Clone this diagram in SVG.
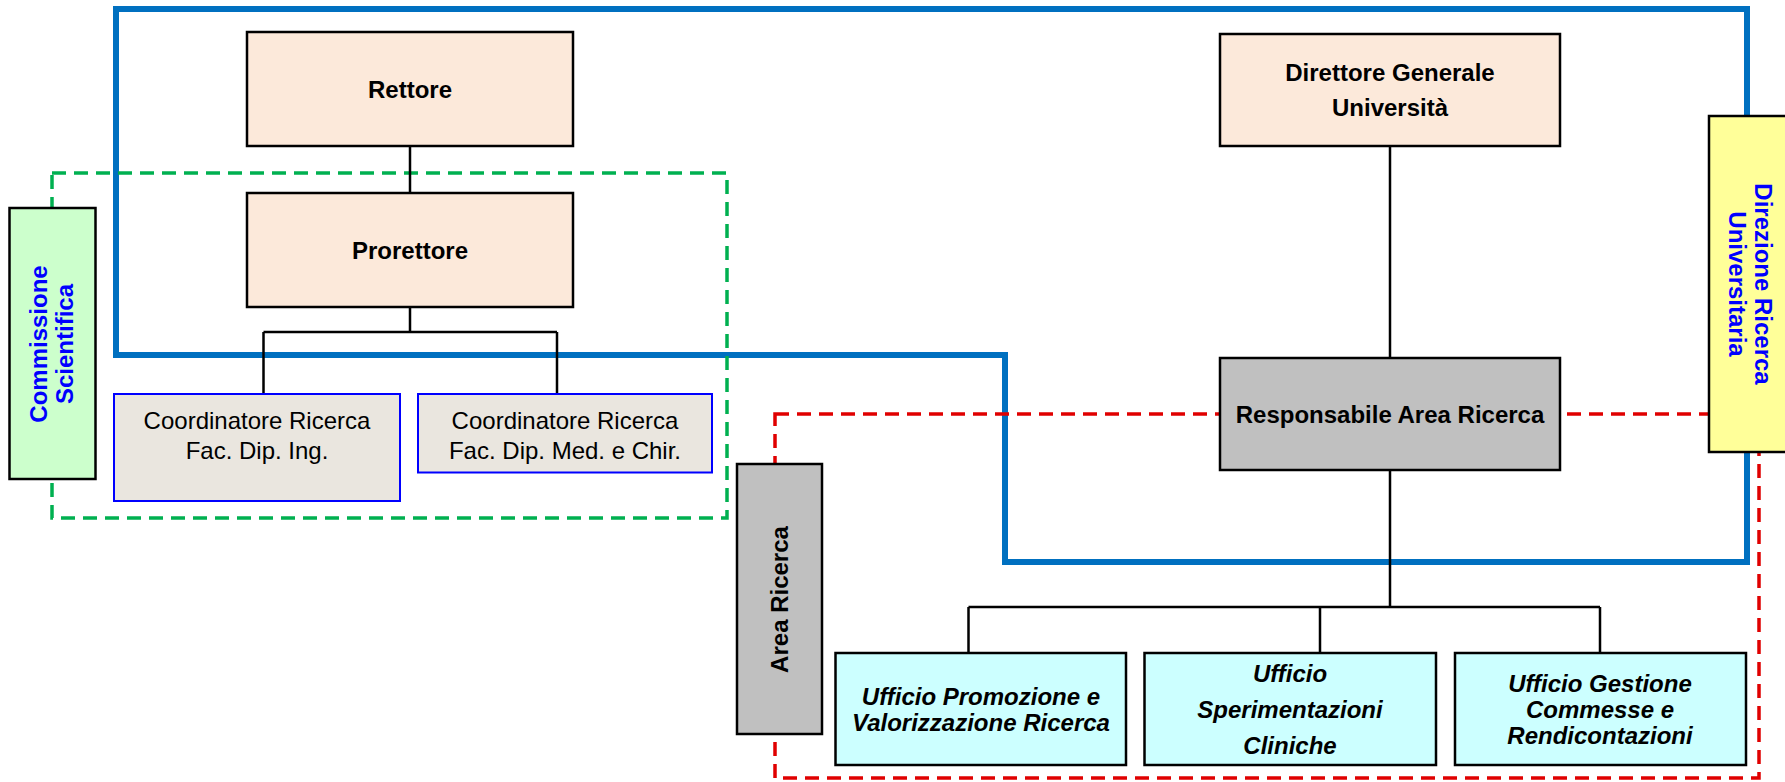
<svg xmlns="http://www.w3.org/2000/svg" width="1785" height="782" viewBox="0 0 1785 782">
<style>
.box{stroke:#000;stroke-width:2.5}
.peach{fill:#FCE9DA}
.gray{fill:#C0C0C0}
.cyan{fill:#CCFFFF}
.coord{fill:#EAE6DF;stroke:#0000FF;stroke-width:2}
.t{font-family:"Liberation Sans",Arial,sans-serif;font-size:24px;text-anchor:middle;fill:#000}
.b{font-weight:bold}
.bi{font-weight:bold;font-style:italic}
.blue{fill:#0000FF}
.conn{stroke:#000;stroke-width:2.5;fill:none}
</style>
<rect width="1785" height="782" fill="#fff"/>
<g id="groups">
  <path id="blue-outline" d="M116,9 H1747 V562 H1005 V355 H116 Z" fill="none" stroke="#0070C0" stroke-width="6"/>
  <rect id="green-dashed" x="52" y="173" width="675" height="345" fill="none" stroke="#00B050" stroke-width="3.5" stroke-dasharray="14,8"/>
  <rect id="red-dashed" x="775" y="414" width="984" height="364" fill="none" stroke="#E00000" stroke-width="3.5" stroke-dasharray="14,8"/>
</g>
<g id="connectors">
  <path class="conn" d="M410,146 V193"/>
  <path class="conn" d="M410,307 V332 M263.5,332 H557 M263.5,332 V394 M557,332 V398"/>
  <path class="conn" d="M1390,146 V358"/>
  <path class="conn" d="M1390,470 V607 M968.5,607 H1600 M968.5,607 V653 M1320,607 V653 M1600,607 V653"/>
</g>
<g id="rettore">
  <rect class="box peach" x="247" y="32" width="326" height="114"/>
  <text class="t b" x="410" y="97.5">Rettore</text>
</g>
<g id="prorettore">
  <rect class="box peach" x="247" y="193" width="326" height="114"/>
  <text class="t b" x="410" y="258.5">Prorettore</text>
</g>
<g id="coord-ing">
  <rect class="coord" x="114" y="394" width="286" height="107"/>
  <text class="t" x="257" y="428.5">Coordinatore Ricerca</text>
  <text class="t" x="257" y="458.5">Fac. Dip. Ing.</text>
</g>
<g id="coord-med">
  <rect class="coord" x="418" y="394" width="294" height="78.5"/>
  <text class="t" x="565" y="428.5">Coordinatore Ricerca</text>
  <text class="t" x="565" y="458.5">Fac. Dip. Med. e Chir.</text>
</g>
<g id="commissione">
  <rect class="box" fill="#CCFFCC" x="9.5" y="208" width="86" height="271"/>
  <g transform="translate(47,344) rotate(-90)">
    <text class="t b blue" x="0" y="0">Commissione</text>
    <text class="t b blue" x="0" y="26">Scientifica</text>
  </g>
</g>
<g id="direttore">
  <rect class="box peach" x="1220" y="34" width="340" height="112"/>
  <text class="t b" x="1390" y="80.5">Direttore Generale</text>
  <text class="t b" x="1390" y="115.5">Università</text>
</g>
<g id="responsabile">
  <rect class="box gray" x="1220" y="358" width="340" height="112"/>
  <text class="t b" x="1390" y="422.5">Responsabile Area Ricerca</text>
</g>
<g id="direzione">
  <rect class="box" fill="#FFFF99" x="1709" y="116" width="84" height="336"/>
  <g transform="translate(1755,284) rotate(90)">
    <text class="t b blue" x="0" y="0">Direzione Ricerca</text>
    <text class="t b blue" x="0" y="26">Universitaria</text>
  </g>
</g>
<g id="area-ricerca">
  <rect class="box gray" x="737" y="464" width="85" height="270"/>
  <text class="t b" transform="translate(788,599.5) rotate(-90)" x="0" y="0">Area Ricerca</text>
</g>
<g id="ufficio-promozione">
  <rect class="box cyan" x="835.5" y="653" width="290.5" height="112"/>
  <text class="t bi" x="981" y="704.5">Ufficio Promozione e</text>
  <text class="t bi" x="981" y="731">Valorizzazione Ricerca</text>
</g>
<g id="ufficio-sperimentazioni">
  <rect class="box cyan" x="1144.5" y="653" width="291.5" height="112"/>
  <text class="t bi" x="1290" y="681.5">Ufficio</text>
  <text class="t bi" x="1290" y="717.5">Sperimentazioni</text>
  <text class="t bi" x="1290" y="753.5">Cliniche</text>
</g>
<g id="ufficio-gestione">
  <rect class="box cyan" x="1455" y="653" width="291" height="112"/>
  <text class="t bi" x="1600" y="691.5">Ufficio Gestione</text>
  <text class="t bi" x="1600" y="717.5">Commesse e</text>
  <text class="t bi" x="1600" y="743.5">Rendicontazioni</text>
</g>
</svg>
